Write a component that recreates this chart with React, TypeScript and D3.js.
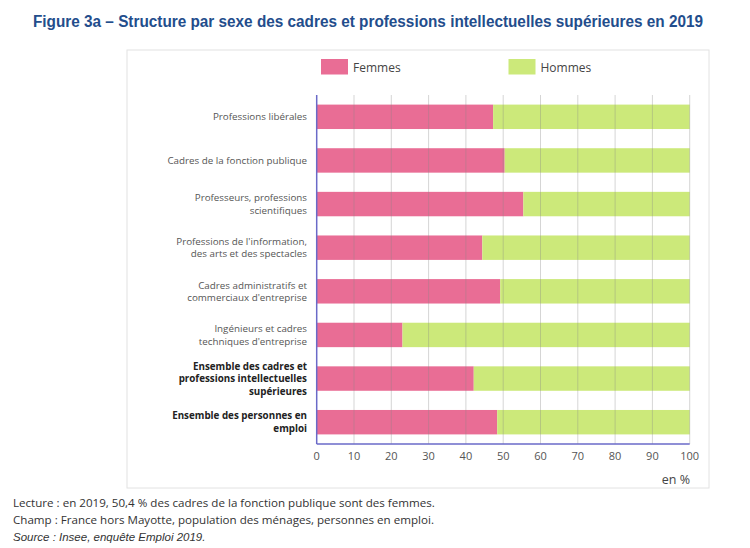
import React from "react";
import * as d3 from "d3";

const categories: string[][] = [
  ["Professions libérales"],
  ["Cadres de la fonction publique"],
  ["Professeurs, professions", "scientifiques"],
  ["Professions de l'information,", "des arts et des spectacles"],
  ["Cadres administratifs et", "commerciaux d'entreprise"],
  ["Ingénieurs et cadres", "techniques d'entreprise"],
  ["Ensemble des cadres et", "professions intellectuelles", "supérieures"],
  ["Ensemble des personnes en", "emploi"],
];
const boldFlags = [false, false, false, false, false, false, true, true];
const femmes = [47.3, 50.4, 55.4, 44.4, 49.2, 23.0, 42.1, 48.4];
const hommes = femmes.map((f) => 100 - f);
const xTicks = [0, 10, 20, 30, 40, 50, 60, 70, 80, 90, 100];
const seriesNames = ["Femmes", "Hommes"];
const colors = ["#e96d95", "#cce97a"];
const footnotes = [
  "Lecture : en 2019, 50,4 % des cadres de la fonction publique sont des femmes.",
  "Champ : France hors Mayotte, population des ménages, personnes en emploi.",
];
const sourceText = "Source : Insee, enquête Emploi 2019.";
const title =
  "Figure 3a – Structure par sexe des cadres et professions intellectuelles supérieures en 2019";

export default function App() {
  const W = 750,
    H = 548;
  const left = 316.7,
    right = 689.7,
    top = 95,
    bottom = 444;
  const x = d3.scaleLinear().domain([0, 100]).range([left, right]);
  const y = d3
    .scaleBand<number>()
    .domain(d3.range(categories.length))
    .range([top, bottom])
    .paddingInner(0.44)
    .paddingOuter(0.22);
  const sans = "'Open Sans', 'Noto Sans', sans-serif";
  return (
    <svg
      width={W}
      height={H}
      style={{ position: "absolute", left: 0, top: 0, background: "#fff" }}
    >
      <text
        x={33}
        y={27}
        fontFamily="'Liberation Sans Narrow', 'Arial Narrow', sans-serif"
        fontWeight="bold"
        fontSize={16}
        fill="#234d8c"
        textLength={670}
        lengthAdjust="spacingAndGlyphs"
      >
        {title}
      </text>
      <rect x={127} y={50} width={582} height={438} fill="#fff" stroke="#e2e2e2" strokeWidth={1} />
      {/* legend */}
      {seriesNames.map((n, i) => (
        <g key={n}>
          <rect x={321 + i * 187.5} y={59} width={27} height={15.5} fill={colors[i]} />
          <text x={353 + i * 187.5} y={71.5} fontFamily={sans} fontSize={12} fill="#444">
            {n}
          </text>
        </g>
      ))}
      {/* bars */}
      {categories.map((c, i) => (
        <g key={i}>
          <rect x={x(0)} y={y(i)} width={x(femmes[i]) - x(0)} height={y.bandwidth()} fill={colors[0]} />
          <rect
            x={x(femmes[i])}
            y={y(i)}
            width={x(femmes[i] + hommes[i]) - x(femmes[i])}
            height={y.bandwidth()}
            fill={colors[1]}
          />
        </g>
      ))}
      {/* grid */}
      {xTicks.slice(1).map((t) => (
        <line key={t} x1={x(t)} x2={x(t)} y1={top} y2={bottom} stroke="#888" strokeOpacity={0.35} strokeWidth={1} />
      ))}
      <line x1={x(0)} x2={x(0)} y1={top} y2={bottom} stroke="#6a6ac8" strokeWidth={1.5} />
      <line x1={x(0)} x2={x(100)} y1={bottom} y2={bottom} stroke="#6a6ac8" strokeWidth={1.5} />
      {xTicks.map((t) => (
        <text key={t} x={x(t)} y={460} textAnchor="middle" fontFamily={sans} fontSize={11} fill="#555">
          {t}
        </text>
      ))}
      <text x={690} y={484} textAnchor="end" fontFamily={sans} fontSize={12.5} fill="#444">
        en %
      </text>
      {/* category labels */}
      {categories.map((lines, i) => {
        const cy = (y(i) as number) + y.bandwidth() / 2;
        const lh = 12.5;
        const y0 = cy - ((lines.length - 1) * lh) / 2 + 3.5;
        return (
          <text
            key={i}
            textAnchor="end"
            fontFamily={sans}
            fontSize={9.8}
            fontWeight={boldFlags[i] ? "bold" : "normal"}
            fill={boldFlags[i] ? "#222" : "#555"}
          >
            {lines.map((l, j) => (
              <tspan key={j} x={307} y={y0 + j * lh}>
                {l}
              </tspan>
            ))}
          </text>
        );
      })}
      {/* footnotes */}
      {footnotes.map((f, i) => (
        <text key={i} x={13} y={507 + i * 17} fontFamily={sans} fontSize={11.6} fill="#333">
          {f}
        </text>
      ))}
      <text
        x={13}
        y={541}
        fontFamily="'Liberation Sans', Arial, sans-serif"
        fontStyle="italic"
        fontSize={11.5}
        fill="#333"
      >
        {sourceText}
      </text>
    </svg>
  );
}
